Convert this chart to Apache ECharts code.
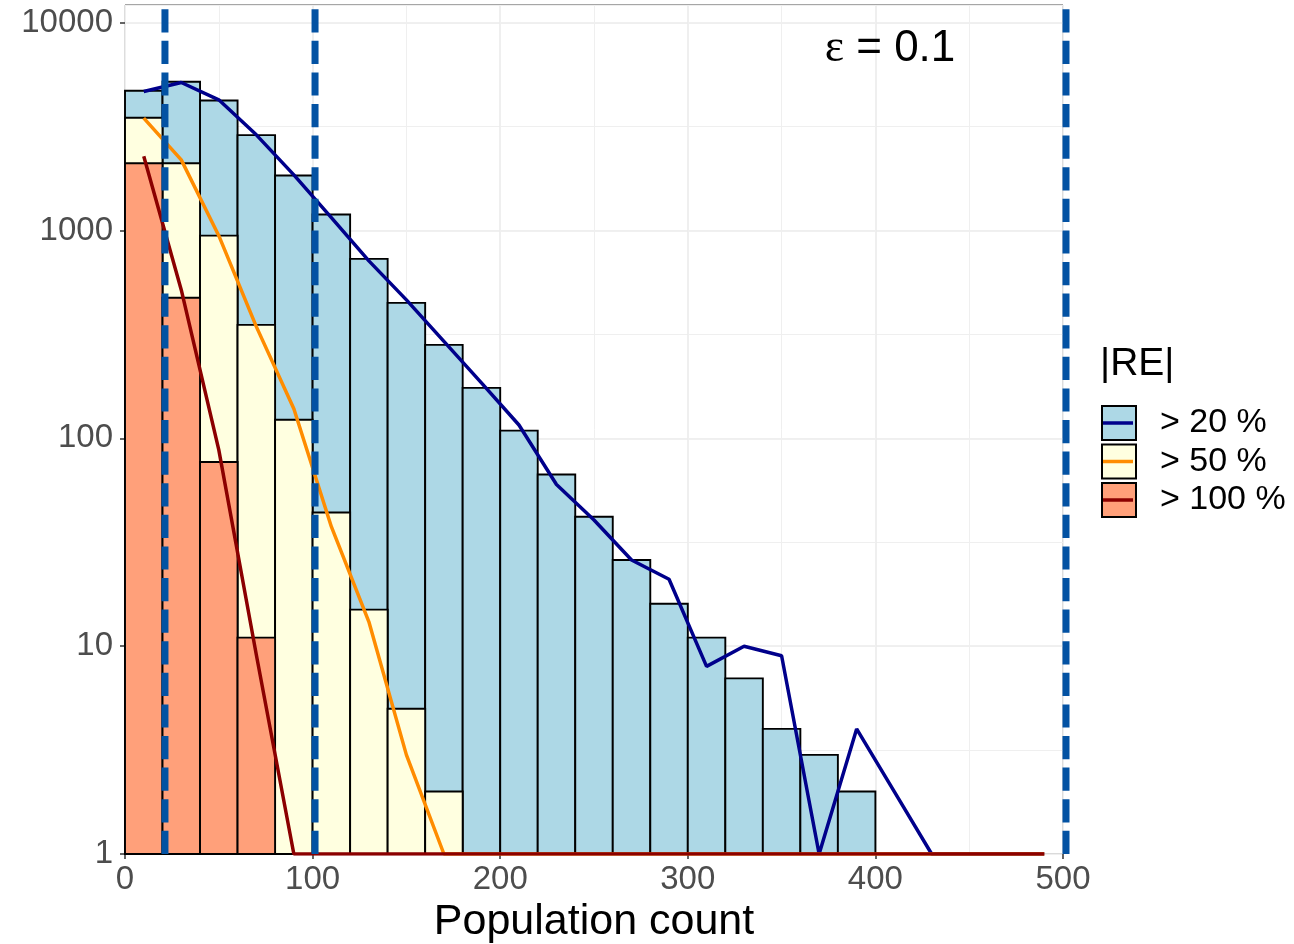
<!DOCTYPE html>
<html>
<head>
<meta charset="utf-8">
<script src="https://cdn.jsdelivr.net/npm/echarts@6/dist/echarts.min.js"></script>
<style>
  html, body { margin: 0; padding: 0; background: #ffffff; }
  #chart { width: 1294px; height: 944px; }
</style>
</head>
<body>
<div id="chart"></div>
<script>
// Histogram bins: left edges and common width (population count)
const binStarts = [0, 20, 40, 60, 80, 100, 120, 140, 160, 180, 200, 220, 240, 260, 280, 300, 320, 340, 360, 380];
const binWidth = 20;

// Group labels for |RE| thresholds
const seriesNames = ['> 20 %', '> 50 %', '> 100 %'];

// Bar heights per bin for each threshold
const countsRE20  = [4710, 5200, 4230, 2880, 1840, 1195, 731, 449, 282, 175, 109, 67, 42, 26, 16, 11, 7, 4, 3, 2];
const countsRE50  = [3490, 2110, 946, 352, 123, 44, 15, 5, 2, 0, 0, 0, 0, 0, 0, 0, 0, 0, 0, 0];
const countsRE100 = [2110, 475, 77, 11, 0, 0, 0, 0, 0, 0, 0, 0, 0, 0, 0, 0, 0, 0, 0, 0];

// Frequency polygons at bin midpoints (0 = empty bin)
const polyMids  = [10, 30, 50, 70, 90, 110, 130, 150, 170, 190, 210, 230, 250, 270, 290, 310, 330, 350, 370, 390, 410, 430, 450, 470, 490];
const polyRE20  = [4670, 5160, 4260, 2890, 1855, 1155, 715, 464, 293, 185, 116, 60, 40.5, 26, 21, 8, 10, 9, 0, 4, 2, 0, 0, 0, 0];
const polyRE50  = [3480, 2190, 945, 345, 139, 37.6, 13.1, 3.0, 0, 0, 0, 0, 0, 0, 0, 0, 0, 0, 0, 0, 0, 0, 0, 0, 0];
const polyRE100 = [2280, 518, 88, 9.1, 0, 0, 0, 0, 0, 0, 0, 0, 0, 0, 0, 0, 0, 0, 0, 0, 0, 0, 0, 0, 0];

// Vertical dashed reference positions
const refLines = [21.3, 101.3, 501.6];

// Axis ticks
const xTicks = [0, 100, 200, 300, 400, 500];
const yTicks = [1, 10, 100, 1000, 10000];
const yMin = 1;
const yMax = 12180;

const fills   = ['#ADD8E6', '#FFFFE0', '#FFA07A'];
const strokes = ['#00008B', '#FF8C00', '#8B0000'];
const barCounts  = [countsRE20, countsRE50, countsRE100];
const polyValues = [polyRE20, polyRE50, polyRE100];

const FONT = "'Liberation Sans', Arial, sans-serif";

const chart = echarts.init(document.getElementById('chart'), null, { renderer: 'canvas' });

// Histogram rectangles (drawn back to front: >20 %, >50 %, >100 %)
const barSeries = seriesNames.map((name, k) => ({
  type: 'custom',
  name: name,
  xAxisIndex: 0,
  yAxisIndex: 0,
  itemStyle: { color: fills[k] },
  encode: { x: [0, 1], y: 2 },
  data: binStarts
    .map((x0, i) => [x0, x0 + binWidth, barCounts[k][i]])
    .filter(d => d[2] > 0),
  renderItem: function (params, api) {
    const top = api.coord([api.value(0), api.value(2)]);
    const base = api.coord([api.value(1), yMin]);
    return {
      type: 'rect',
      shape: { x: top[0], y: top[1], width: base[0] - top[0], height: base[1] - top[1] },
      style: { fill: fills[k], stroke: '#000000', lineWidth: 1.9 }
    };
  },
  silent: true,
  z: 2
}));

// Frequency polygons; empty bins rest on the floor of the log axis
const lineSeries = seriesNames.map((name, k) => ({
  type: 'line',
  name: name,
  xAxisIndex: 0,
  yAxisIndex: 0,
  data: polyMids.map((x, i) => [x, polyValues[k][i] > 0 ? polyValues[k][i] : yMin]),
  symbol: 'none',
  showSymbol: false,
  lineStyle: { color: strokes[k], width: 3.5 },
  itemStyle: { color: strokes[k] },
  silent: true,
  z: 3
}));

// Dashed vertical reference lines spanning the full panel height,
// dashes laid out from the bottom of the panel upwards
const refSeries = {
  type: 'custom',
  xAxisIndex: 0,
  yAxisIndex: 0,
  clip: false,
  encode: { x: 0 },
  data: refLines.map(x => [x]),
  renderItem: function (params, api) {
    const bottom = api.coord([api.value(0), yMin]);
    const top = api.coord([api.value(0), yMax]);
    return {
      type: 'line',
      shape: { x1: bottom[0], y1: bottom[1], x2: top[0], y2: top[1] },
      style: { stroke: '#0352A3', lineWidth: 7, lineDash: [23.2, 8.4], lineCap: 'butt' }
    };
  },
  silent: true,
  z: 6
};

const gridLeft = 125, gridTop = 5, gridRight = 1294 - 1063, gridBottom = 944 - 854;

const option = {
  animation: false,
  backgroundColor: '#ffffff',
  grid: {
    left: gridLeft, right: gridRight, top: gridTop, bottom: gridBottom,
    containLabel: false,
    outerBoundsMode: 'none',
    show: true, borderColor: '#4d4d4d', borderWidth: 1, backgroundColor: 'transparent'
  },
  xAxis: [
    {
      type: 'value',
      min: xTicks[0],
      max: xTicks[xTicks.length - 1],
      interval: xTicks[1] - xTicks[0],
      name: 'Population count',
      nameLocation: 'middle',
      nameGap: 47,
      nameTextStyle: { fontSize: 43, fontFamily: FONT, color: '#000000' },
      axisLine: { show: false },
      axisTick: { show: true, inside: false, length: 5, lineStyle: { color: '#333333', width: 1.5 } },
      axisLabel: { fontSize: 33, fontFamily: FONT, color: '#4D4D4D', margin: 9 },
      splitLine: { show: true, lineStyle: { color: '#EBEBEB', width: 1.6 } }
    },
    {
      // half-step grid
      type: 'value',
      min: xTicks[0],
      max: xTicks[xTicks.length - 1],
      interval: (xTicks[1] - xTicks[0]) / 2,
      position: 'bottom',
      axisLine: { show: false },
      axisTick: { show: false },
      axisLabel: { show: false },
      splitLine: { show: true, lineStyle: { color: '#EFEFEF', width: 1 } }
    }
  ],
  yAxis: [
    {
      type: 'log',
      logBase: 10,
      min: yMin,
      max: yMax,
      axisLine: { show: false },
      axisTick: {
        show: true, inside: false, length: 5, customValues: yTicks,
        lineStyle: { color: '#333333', width: 1.5 }
      },
      axisLabel: {
        fontSize: 33, fontFamily: FONT, color: '#4D4D4D', margin: 12,
        formatter: function (v) {
          const hit = yTicks.find(t => Math.abs(Math.log10(v) - Math.log10(t)) < 1e-6);
          return hit !== undefined ? String(hit) : '';
        }
      },
      splitLine: { show: true, lineStyle: { color: '#EBEBEB', width: 1.6 } }
    },
    {
      // half-decade grid in exponent space
      type: 'value',
      min: Math.log10(yMin),
      max: Math.log10(yMax),
      interval: 0.5,
      axisLine: { show: false },
      axisTick: { show: false },
      axisLabel: { show: false },
      splitLine: { show: true, lineStyle: { color: '#EFEFEF', width: 1 } }
    }
  ],
  legend: [
    {
      orient: 'vertical',
      left: 1101,
      top: 404,
      padding: 0,
      itemWidth: 34,
      itemHeight: 34,
      itemGap: 0.5,
      icon: 'rect',
      selectedMode: false,
      data: seriesNames,
      itemStyle: { borderColor: '#000000', borderWidth: 2 },
      textStyle: { fontSize: 34, fontFamily: FONT, color: '#000000', lineHeight: 38, padding: [0, 0, 0, 19] }
    },
    {
      orient: 'vertical',
      left: 1103,
      top: 404,
      padding: 0,
      itemWidth: 30,
      itemHeight: 3.5,
      itemGap: 0.5,
      icon: 'rect',
      selectedMode: false,
      z: 5,
      data: seriesNames.map((n, k) => ({ name: n, itemStyle: { color: strokes[k], borderWidth: 0 } })),
      textStyle: { fontSize: 34, fontFamily: FONT, color: 'rgba(0,0,0,0)', lineHeight: 38, padding: [0, 0, 0, 19] }
    }
  ],
  graphic: [
    {
      type: 'text',
      z: 10,
      style: {
        x: 890, y: 49,
        text: '{g|ε}{t| = 0.1}',
        align: 'center', verticalAlign: 'middle',
        textAlign: 'center', textVerticalAlign: 'middle',
        fill: '#000000',
        rich: {
          g: { fontFamily: "'Liberation Serif', 'Times New Roman', serif", fontSize: 46, fill: '#000000' },
          t: { fontFamily: FONT, fontSize: 44, fill: '#000000' }
        }
      }
    },
    {
      type: 'text',
      z: 10,
      style: {
        x: 1100, y: 364,
        text: '|RE|',
        align: 'left', verticalAlign: 'middle',
        textAlign: 'left', textVerticalAlign: 'middle',
        fontFamily: FONT, fontSize: 39,
        fill: '#000000'
      }
    }
  ],
  series: [].concat(barSeries, lineSeries, [refSeries])
};

chart.setOption(option);
</script>
</body>
</html>
